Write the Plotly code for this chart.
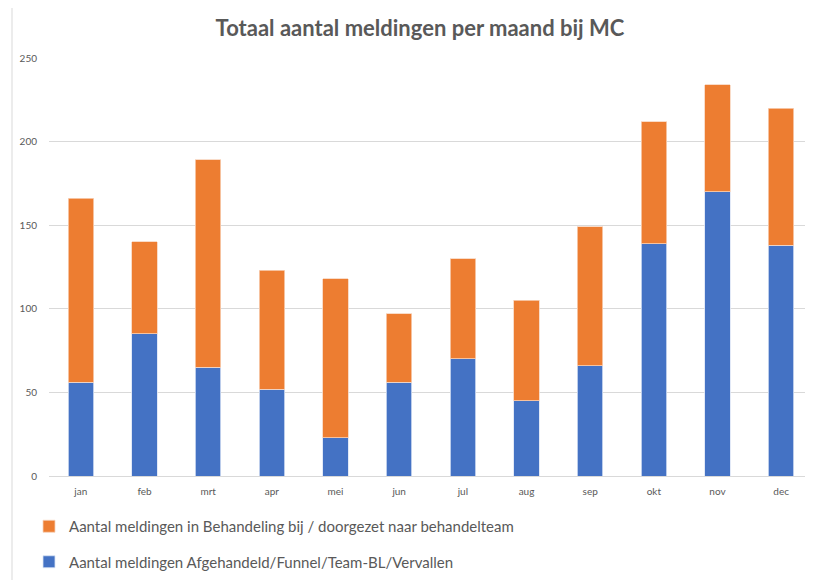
import plotly.graph_objects as go

months = ["jan", "feb", "mrt", "apr", "mei", "jun", "jul", "aug", "sep", "okt", "nov", "dec"]
afgehandeld = [56, 85, 65, 52, 23, 56, 70, 45, 66, 139, 170, 138]
in_behandeling = [110, 55, 124, 71, 95, 41, 60, 60, 83, 73, 64, 82]
y_ticks = [0, 50, 100, 150, 200, 250]

name_blue = "Aantal meldingen Afgehandeld/Funnel/Team-BL/Vervallen"
name_orange = "Aantal meldingen in Behandeling bij / doorgezet naar behandelteam"

W, H = 805, 572
L, R, T, B = 41, 0, 50, 104
PW = W - L - R
PH = H - T - B

fig = go.Figure()
fig.add_trace(go.Bar(x=months, y=afgehandeld, name=name_blue, legendgroup="b", legendrank=2,
                     marker=dict(color="#4472C4", line=dict(color="#dbe4f5", width=0.8))))
fig.add_trace(go.Bar(x=months, y=in_behandeling, name=name_orange, legendgroup="o", legendrank=1,
                     marker=dict(color="#ED7D31", line=dict(color="#f8d3bb", width=0.8))))

fig.update_layout(
    barmode="stack",
    bargap=0.6,
    width=W, height=H,
    paper_bgcolor="white", plot_bgcolor="white",
    margin=dict(l=L, r=R, t=T, b=B, autoexpand=False),
    title=dict(text="<b>Totaal aantal meldingen per maand bij MC</b>",
               x=(420 - 8) / W, xanchor="center", xref="container",
               y=1 - 20 / H, yanchor="middle", yref="container",
               font=dict(family="Lato, Open Sans, sans-serif", size=22, color="#595959")),
    font=dict(family="Lato, Open Sans, sans-serif", color="#595959"),
    legend=dict(orientation="v", traceorder="grouped",
                x=(29 - 49) / PW, xanchor="left", y=-(510 - 476) / PH, yanchor="top",
                font=dict(family="Lato, sans-serif", size=15, color="#595959"),
                tracegroupgap=13,
                bgcolor="rgba(0,0,0,0)"),
    xaxis=dict(showgrid=False, showline=False, ticks="outside", ticklen=6,
               tickcolor="rgba(0,0,0,0)",
               tickfont=dict(size=10, color="#595959")),
    yaxis=dict(range=[0, 250], tickvals=y_ticks, showgrid=True,
               gridcolor="#d9d9d9", gridwidth=1, zeroline=True,
               zerolinecolor="#d9d9d9", zerolinewidth=1,
               tickfont=dict(size=10, color="#595959"),
               ticks="outside", ticklen=9, tickcolor="rgba(0,0,0,0)"),
    shapes=[dict(type="line", xref="paper", yref="paper",
                 x0=(12 - 49) / PW, x1=(12 - 49) / PW, y0=-0.3, y1=1.2,
                 line=dict(color="#d9d9d9", width=1))],
)

fig.write_html("out.html")
